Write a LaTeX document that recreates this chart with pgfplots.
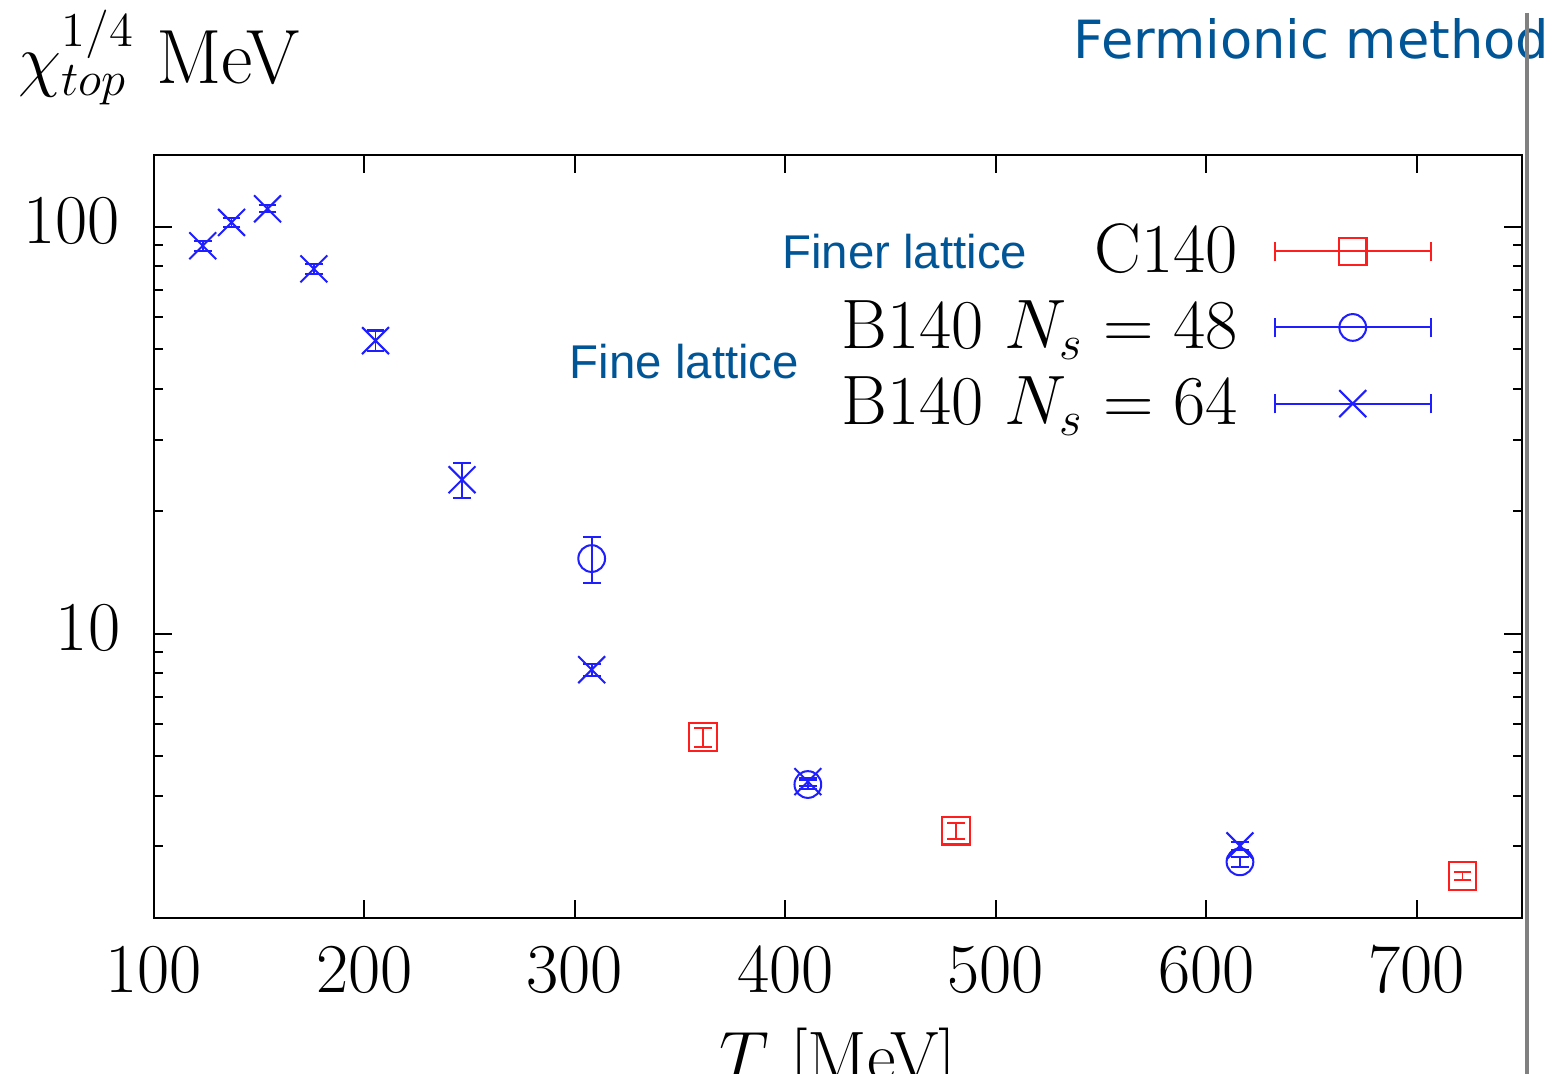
\documentclass[border=0pt]{standalone}
\usepackage{pgfplots}
\pgfplotsset{compat=1.18}
\usepackage{fontspec}
\newfontfamily\helv{Liberation Sans}
\newfontfamily\dejavu{DejaVu Sans}
\definecolor{slideblue}{RGB}{0,85,150}
\definecolor{pblue}{RGB}{30,30,255}
\definecolor{pred}{RGB}{255,30,30}
\begin{document}
\begin{tikzpicture}
\begin{axis}[
  name=ax,
  scale only axis,
  width=337.8pt, height=188.4pt,
  ymode=log,
  xmin=100, xmax=750, ymin=2, ymax=150,
  xtick={100,200,...,700},
  ytick={10,100},
  log ticks with fixed point,
  minor ytick={2,3,4,5,6,7,8,9,20,30,40,50,60,70,80,90},
  tick label style={font=\LARGE},
  xticklabel style={yshift=-3.8pt},
  yticklabel style={xshift=-4.8pt, yshift=1.5pt},
  major tick length=4.4pt, minor tick length=2.2pt,
  tick style={black, line width=0.5pt},
  axis line style={black, line width=0.6pt},
  clip=false,
  legend plot pos=right,
  legend cell align=right,
  legend style={draw=none, fill=none, inner sep=0pt, outer sep=0pt,
    at={(0.934,0.910)}, anchor=north east, font=\LARGE,
    row sep=2.8pt, column sep=8.9pt,
    nodes={inner sep=0pt, text height=12pt, text depth=4pt}},
  legend image code/.code={
    \begin{scope}[yshift=1.2pt]
    \draw (0pt,0pt) -- (38.5pt,0pt);
    \draw (0pt,-2.4pt) -- (0pt,2.4pt);
    \draw (38.5pt,-2.4pt) -- (38.5pt,2.4pt);
    \draw plot coordinates {(19.25pt,0pt)};
    \end{scope}
  },
]
\addplot[pred, only marks, mark=square, mark size=3.4pt, line width=0.5pt,
  error bars/.cd, y dir=both, y explicit,
  error mark options={rotate=90, mark size=2.2pt, line width=0.5pt}]
  coordinates {
  (360.9,5.57) +- (0,0.30)
  (481.2,3.28) +- (0,0.15)
  (721.75,2.54) +- (0,0.06)
  };
\addlegendentry{C140}
\addplot[pblue, only marks, mark=o, mark size=3.3pt, line width=0.5pt,
  error bars/.cd, y dir=both, y explicit,
  error mark options={rotate=90, mark size=2.2pt, line width=0.5pt}]
  coordinates {
  (308.0,15.3) +- (0,2.0)
  (410.7,4.26) +- (0,0.10)
  (616.0,2.75) +- (0,0.08)
  };
\addlegendentry{B140 $N_s=48$}
\addplot[pblue, only marks, mark=x, mark size=4.7pt, line width=0.5pt,
  error bars/.cd, y dir=both, y explicit,
  error mark options={rotate=90, mark size=2.2pt, line width=0.5pt}]
  coordinates {
  (123.2,89.8) +- (0,2.5)
  (136.9,102.5) +- (0,2.5)
  (154.0,110.7) +- (0,2.1)
  (176.0,78.8) +- (0,2.2)
  (205.3,52.5) +- (0,3.1)
  (246.4,23.9) +- (0,2.3)
  (308.0,8.16) +- (0,0.28)
  (410.7,4.33) +- (0,0.10)
  (616.0,3.01) +- (0,0.07)
  };
\addlegendentry{B140 $N_s=64$}
\end{axis}
\node[anchor=base west, inner sep=0pt] at ([xshift=-33.6pt, yshift=206.2pt]ax.south west) {\LARGE $\chi_{top}^{1/4}$ {\fontsize{19}{23}\selectfont MeV}};
\node[anchor=base, inner sep=0pt] at ([xshift=168.9pt, yshift=-40.2pt]ax.south west) {\LARGE $T$ [MeV]};
\node[anchor=base, inner sep=0pt, text=slideblue, font=\helv\fontsize{11.7}{14}\selectfont] at ([xshift=185.4pt, yshift=160.5pt]ax.south west) {Finer lattice};
\node[anchor=base, inner sep=0pt, text=slideblue, font=\helv\fontsize{11.7}{14}\selectfont] at ([xshift=131pt, yshift=133.3pt]ax.south west) {Fine lattice};
\node[anchor=base west, inner sep=0pt, text=slideblue, font=\dejavu\fontsize{13}{15}\selectfont] at ([xshift=226.9pt, yshift=212.3pt]ax.south west) {Fermionic method};
\draw[gray, line width=1pt] ([xshift=339.1pt, yshift=223.5pt]ax.south west) -- ([xshift=339.1pt, yshift=-40pt]ax.south west);
\pgfresetboundingbox
\useasboundingbox ([xshift=-38.0pt,yshift=-38.3pt]ax.south west) rectangle ([xshift=345.2pt,yshift=226.7pt]ax.south west);
\end{tikzpicture}
\end{document}
